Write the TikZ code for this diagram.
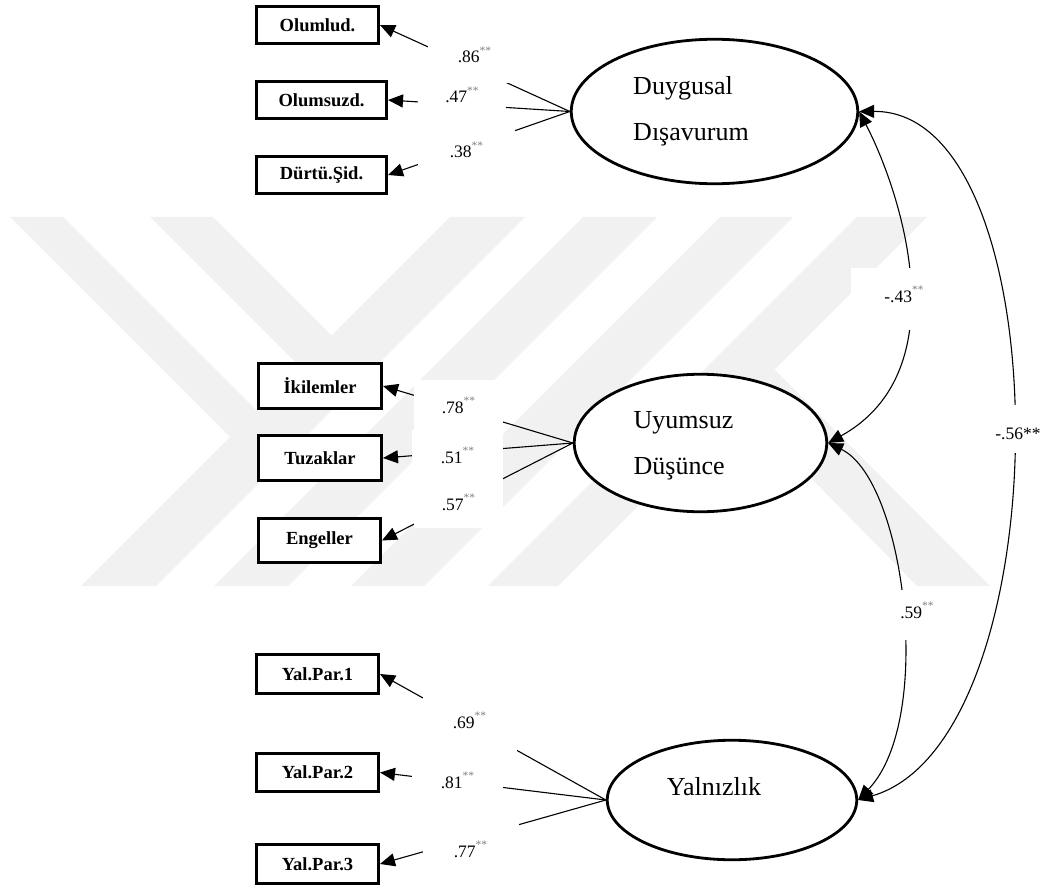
\documentclass[tikz,border=0pt]{standalone}
\usepackage{fontspec}
\setmainfont{Liberation Serif}
\usetikzlibrary{shapes.geometric,arrows.meta}
\definecolor{wm}{gray}{0.945}
\newcommand{\sgs}{\raisebox{8.5pt}{\fontsize{11.5}{11.5}\selectfont\textcolor{gray}{**}}}
\begin{document}
\begin{tikzpicture}[x=1pt,y=-1pt,
  ind/.style={draw, fill=white, line width=2.6pt, inner sep=0pt, font=\fontsize{18.5}{20}\selectfont\bfseries},
  lat/.style={draw, fill=white, ellipse, line width=2.8pt, inner sep=0pt},
  lattext/.style={font=\fontsize{26}{46}\selectfont, align=left, inner sep=0pt},
  lab/.style={fill=white, inner sep=0pt, anchor=base, font=\fontsize{17.5}{19}\selectfont},
  load/.style={line width=1.1pt, -{Triangle[length=15pt,width=13pt]}},
  cov/.style={line width=1.1pt, {Triangle[length=15pt,width=13pt]}-{Triangle[length=15pt,width=13pt]}},
]
\useasboundingbox (0,0) rectangle (1045,888);
% watermark
\fill[wm] (450,217) -- (525,217) -- (156,586) -- (81,586) -- cycle;
\fill[wm] (583,217) -- (657,217) -- (288,586) -- (214,586) -- cycle;
\fill[wm] (720,217) -- (793,217) -- (424,586) -- (351,586) -- cycle;
\fill[wm] (857,217) -- (927,217) -- (558,586) -- (488,586) -- cycle;
\fill[wm] (10,217) -- (63,217) -- (290,444) -- (237,444) -- cycle;
\fill[wm] (150,217) -- (213,217) -- (363,367) -- (300,367) -- cycle;
\fill[wm] (705,370) -- (775,370) -- (990,586) -- (917,586) -- cycle;
% indicators
\node[ind, minimum width=122.4, minimum height=37.4] (olumlu) at (317.5,25) {Olumlud.};
\node[ind, minimum width=130.4, minimum height=37.4] (olumsuz) at (321.5,100) {Olumsuzd.};
\node[ind, minimum width=130.4, minimum height=37.4] (durtu) at (321.5,175) {Dürtü.Şid.};
\node[ind, minimum width=123.4, minimum height=45.4] (ikilem) at (320,386) {İkilemler};
\node[ind, minimum width=123.4, minimum height=45.4] (tuzak) at (320,458) {Tuzaklar};
\node[ind, minimum width=122.4, minimum height=44.4] (engel) at (319.5,540.5) {Engeller};
\node[ind, minimum width=122.4, minimum height=39.4] (yp1) at (317.5,674) {Yal.Par.1};
\node[ind, minimum width=122.4, minimum height=38.4] (yp2) at (317.5,772.5) {Yal.Par.2};
\node[ind, minimum width=122.4, minimum height=39.4] (yp3) at (317.5,864) {Yal.Par.3};
% latent variables
\node[lat, minimum width=286.5, minimum height=144.5,
  label={[lattext, xshift=-23.5pt]center:{Duygusal\\Dışavurum}}] (e1) at (714.5,111.5) {};
\node[lat, minimum width=252.5, minimum height=137.5,
  label={[lattext, xshift=-17pt, yshift=-3pt]center:{Uyumsuz\\Düşünce}}] (e2) at (700.5,443) {};
\node[lat, minimum width=249.5, minimum height=119.5,
  label={[lattext, xshift=-18pt, yshift=13pt]center:{Yalnızlık}}] (e3) at (732,800) {};
% loadings
\draw[load] (e1.west) -- (olumlu.east);
\draw[load] (e1.west) -- (olumsuz.east);
\draw[load] (e1.west) -- (durtu.east);
\draw[load] (e2.west) -- (ikilem.east);
\draw[load] (e2.west) -- (tuzak.east);
\draw[load] (e2.west) -- (engel.east);
\draw[load] (e3.west) -- (yp1.east);
\draw[load] (e3.west) -- (yp2.east);
\draw[load] (e3.west) -- (yp3.east);
% covariances
\draw[cov] (e1.east) .. controls (900,190) and (960,370) .. (e2.east);
\draw[cov] (e1.east) .. controls (1063,110) and (1063,740) .. (e3.east);
\draw[cov] (e2.east) .. controls (905,480) and (935,720) .. (e3.east);
% labels
\node[lab, text height=19pt, text depth=20pt, minimum width=93] (l1) at (474.5,63) {.86\sgs};
\node[lab, text height=15pt, text depth=12pt, minimum width=88] (l2) at (462,103) {.47\sgs};
\node[lab, text height=38pt, text depth=10pt, minimum width=97] (l3) at (466.5,158) {.38\sgs};
\node[lab, text height=33pt, text depth=17pt, minimum width=89] (l4) at (458.5,413) {.78\sgs};
\node[lab, text height=33pt, text depth=19pt, minimum width=91] (l5) at (457.5,463) {.51\sgs};
\node[lab, text height=28pt, text depth=18pt, minimum width=89] (l6) at (458.5,510) {.57\sgs};
\node[lab, text height=31pt, text depth=24pt, minimum width=94] (l7) at (469.5,728) {.69\sgs};
\node[lab, text height=26pt, text depth=12pt, minimum width=91] (l8) at (457.5,788) {.81\sgs};
\node[lab, text height=42pt, text depth=5pt, minimum width=96] (l9) at (470.5,857) {.77\sgs};
\node[lab, text height=34pt, text depth=28pt, minimum width=106] (l43) at (904,302) {-.43\sgs};
\node[lab, text height=34pt, text depth=14pt] (l56) at (1018,439) {-.56**};
\node[lab, text height=28pt, text depth=22pt, minimum width=50] (l59) at (917,618) {.59\sgs};
\end{tikzpicture}
\end{document}
